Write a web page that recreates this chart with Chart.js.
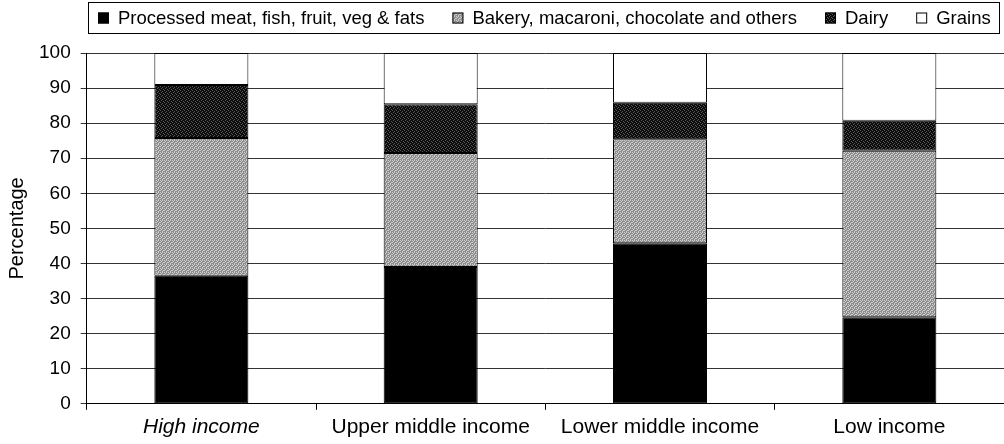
<!DOCTYPE html>
<html>
<head>
<meta charset="utf-8">
<script src="https://cdn.jsdelivr.net/npm/chart.js@4.4.0/dist/chart.umd.min.js"></script>
<style>
  html, body { margin: 0; padding: 0; background: #fff; }
  #wrap { width: 1004px; height: 444px; }
</style>
</head>
<body>
<div id="wrap"><canvas id="chart"></canvas></div>
<script>
const categories = ['High income', 'Upper middle income', 'Lower middle income', 'Low income'];
const processed = [36.5, 39.0, 45.8, 24.7];
const bakery    = [39.3, 32.5, 29.6, 47.4];
const dairy     = [15.1, 13.9, 10.4, 8.6];
const grains    = [9.1, 14.6, 14.2, 19.3];
const yTicks    = [0, 10, 20, 30, 40, 50, 60, 70, 80, 90, 100];

const FONT = 'Liberation Sans, Arial, sans-serif';

// small textured tiles to mimic the printed fills
function makePattern(bg, fg, cells) {
  const c = document.createElement('canvas');
  c.width = 4; c.height = 4;
  const g = c.getContext('2d');
  g.fillStyle = bg; g.fillRect(0, 0, 4, 4);
  g.fillStyle = fg;
  cells.forEach(([x, y]) => g.fillRect(x, y, 1, 1));
  return g.createPattern(c, 'repeat');
}
const bakeryFill = makePattern('#8c8c8c', '#d0d0d0', [[0,0],[2,0],[1,1],[3,2],[0,2],[2,3]]);
const dairyFill  = makePattern('#0c0c0c', '#5a5a5a', [[1,0],[3,1],[0,2],[2,3]]);

// boxed legend row across the top, like the printed figure
const boxLegend = {
  id: 'boxLegend',
  afterDraw(chart) {
    const { ctx } = chart;
    ctx.save();
    ctx.strokeStyle = '#000';
    ctx.lineWidth = 1;
    ctx.strokeRect(88.5, 2.5, 911, 31);
    ctx.font = '18.5px ' + FONT;
    ctx.textBaseline = 'middle';
    let x = 98;
    const y = 18;
    chart.data.datasets.forEach(ds => {
      ctx.fillStyle = ds.backgroundColor;
      ctx.fillRect(x, y - 5.5, 11, 11);
      ctx.strokeStyle = '#000';
      ctx.strokeRect(x + 0.5, y - 5, 10, 10);
      ctx.fillStyle = '#000';
      ctx.fillText(ds.label, x + 20, y + 1);
      x += 20 + ctx.measureText(ds.label).width + 28;
    });
    ctx.restore();
  }
};

const mk = (label, data, bg) => ({
  label, data, backgroundColor: bg,
  borderColor: '#000', borderWidth: 1, borderSkipped: false,
  barPercentage: 0.41, categoryPercentage: 1
});

new Chart(document.getElementById('chart'), {
  type: 'bar',
  data: {
    labels: categories,
    datasets: [
      mk('Processed meat, fish, fruit, veg & fats', processed, '#000'),
      mk('Bakery, macaroni, chocolate and others', bakery, bakeryFill),
      mk('Dairy', dairy, dairyFill),
      mk('Grains', grains, '#fff')
    ]
  },
  options: {
    responsive: true,
    maintainAspectRatio: false,
    animation: false,
    layout: { padding: { top: 53, right: 0, bottom: 0, left: 5 } },
    plugins: {
      tooltip: { enabled: false },
      legend: { display: false }
    },
    scales: {
      x: {
        stacked: true,
        offset: true,
        border: { color: '#000', width: 1 },
        grid: { display: true, offset: true, drawOnChartArea: false, drawTicks: true, tickLength: 6, color: '#000' },
        ticks: {
          color: '#000',
          padding: 4.5,
          maxRotation: 0,
          font: (c) => ({ family: FONT, size: 21, style: c.index === 0 ? 'italic' : 'normal' })
        }
      },
      y: {
        stacked: true,
        min: 0, max: 100,
        afterBuildTicks: (axis) => { axis.ticks = yTicks.map(v => ({ value: v })); },
        border: { color: '#000', width: 1 },
        grid: { color: '#333', lineWidth: 1, tickLength: 6, drawTicks: true },
        ticks: {
          color: '#000',
          padding: 10,
          font: { family: FONT, size: 19 }
        },
        title: {
          display: true,
          text: 'Percentage',
          color: '#000',
          padding: { top: 0, bottom: 0 },
          font: { family: FONT, size: 20 }
        }
      }
    }
  },
  plugins: [boxLegend]
});
</script>
</body>
</html>
